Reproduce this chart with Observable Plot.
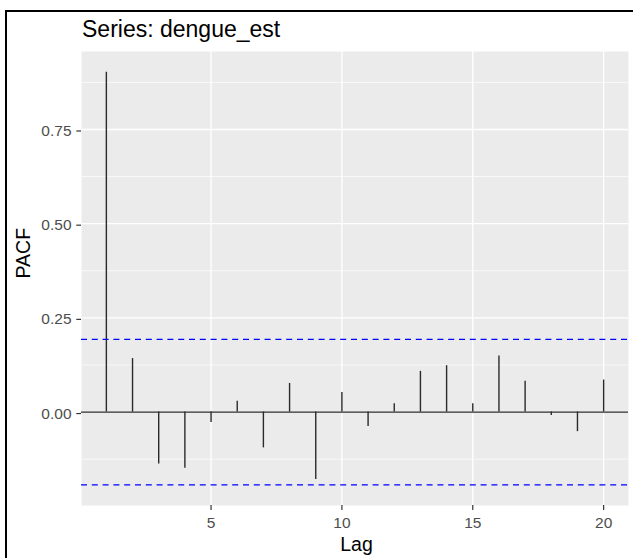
<!DOCTYPE html>
<html>
<head>
<meta charset="utf-8">
<script src="https://cdn.jsdelivr.net/npm/d3@7"></script>
<script src="https://cdn.jsdelivr.net/npm/@observablehq/plot@0.6"></script>
<style>
  body { margin: 0; background: #fff; }
  #wrap { position: relative; width: 633px; height: 558px; overflow: hidden; font-family: "Liberation Sans", Arial, sans-serif; }
  #border { position: absolute; left: 5px; top: 10px; width: 700px; height: 600px; border-top: 2px solid #000; border-left: 2px solid #000; }
  #chart { position: absolute; left: 0; top: 0; }
  #title { position: absolute; left: 82px; top: 18px; font-size: 23px; line-height: 1; color: #000; white-space: nowrap; }
</style>
</head>
<body>
<div id="wrap">
  <div id="chart"></div>
  <div id="border"></div>
  <div id="title">Series: dengue_est</div>
</div>
<script>
const titleText = "Series: dengue_est";
const xLabel = "Lag";
const yLabel = "PACF";
const lags = [1, 2, 3, 4, 5, 6, 7, 8, 9, 10, 11, 12, 13, 14, 15, 16, 17, 18, 19, 20];
const pacf = [0.902, 0.142, -0.138, -0.149, -0.028, 0.029, -0.095, 0.076, -0.179, 0.052,
              -0.038, 0.022, 0.108, 0.123, 0.022, 0.149, 0.082, -0.009, -0.052, 0.085];
const ciBound = 0.193;
const xTicks = [5, 10, 15, 20];
const yTicks = [0, 0.25, 0.5, 0.75];
const yMinor = [-0.125, 0.125, 0.375, 0.625, 0.875];

document.getElementById("title").textContent = titleText;

const data = lags.map((lag, i) => ({lag, pacf: pacf[i]}));

const chart = Plot.plot({
  width: 633,
  height: 558,
  marginLeft: 81,
  marginRight: 5,
  marginTop: 51,
  marginBottom: 53,
  style: {fontFamily: "'Liberation Sans', Arial, sans-serif", fontSize: "15.5px", color: "#4d4d4d", background: "transparent"},
  x: {domain: [0.05, 20.95]},
  y: {domain: [-0.248, 0.957]},
  marks: [
    Plot.frame({fill: "#ebebeb", stroke: "none"}),
    Plot.ruleY(yMinor, {stroke: "#fff", strokeWidth: 0.7}),
    Plot.ruleY(yTicks, {stroke: "#fff", strokeWidth: 1.3}),
    Plot.ruleX(xTicks, {stroke: "#fff", strokeWidth: 1.3}),
    Plot.ruleY([0], {stroke: "#2a2a2a", strokeWidth: 1.2}),
    Plot.ruleX(data, {x: "lag", y1: 0, y2: "pacf", stroke: "#2a2a2a", strokeWidth: 1.4}),
    Plot.ruleY([ciBound, -ciBound], {stroke: "#0000ff", strokeWidth: 1.3, strokeDasharray: "6,4.8"}),
    Plot.axisX({ticks: xTicks, tickSize: 5, tickPadding: 6.5, label: null, stroke: "#333", strokeWidth: 1.2, fill: "#4d4d4d", tickFormat: d3.format("d")}),
    Plot.axisY({ticks: yTicks, tickSize: 4.7, tickPadding: 5.3, label: null, stroke: "#333", strokeWidth: 1.2, fill: "#4d4d4d", tickFormat: d3.format(".2f"), dy: 1.5}),
    Plot.text([xLabel], {frameAnchor: "bottom", lineAnchor: "bottom", dy: 45, dx: 1.5, fontSize: 19.5, fill: "#000"}),
    Plot.text([yLabel], {frameAnchor: "left", rotate: -90, dx: -57.5, fontSize: 19.5, fill: "#000"})
  ]
});
document.getElementById("chart").appendChild(chart);
</script>
</body>
</html>
